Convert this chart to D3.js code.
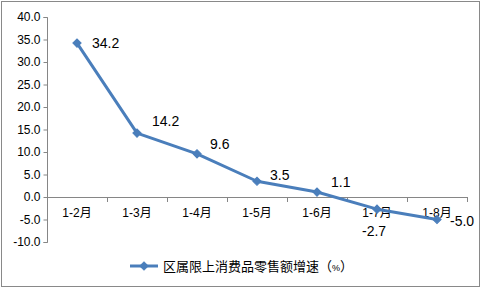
<!DOCTYPE html>
<html><head><meta charset="utf-8">
<script src="https://cdn.jsdelivr.net/npm/d3@7/dist/d3.min.js"></script>
<style>
html,body{margin:0;padding:0;background:#fff;}
svg{display:block;}
</style></head>
<body>
<svg id="c" width="482" height="290"></svg>
<script>
const categories = ["1-2月","1-3月","1-4月","1-5月","1-6月","1-7月","1-8月"];
const values = [34.2, 14.2, 9.6, 3.5, 1.1, -2.7, -5.0];
const yTicks = [40, 35, 30, 25, 20, 15, 10, 5, 0, -5, -10];
const seriesName = "区属限上消费品零售额增速";

const svg = d3.select("#c");
const color = "#4A7EBB";
const axisColor = "#868686";
const numFont = "'Liberation Sans', Arial, sans-serif";
const cjkFont = "'Noto Sans CJK SC', sans-serif";
const fmt = d => d3.format(".1f")(d).replace("\u2212", "-");

svg.append("rect").attr("x",1.5).attr("y",1.5).attr("width",478).attr("height",285)
  .attr("fill","#fff").attr("stroke","#898989").attr("stroke-width",1);

const x = d3.scaleBand().domain(categories).range([47, 467]).padding(0);
const y = d3.scaleLinear().domain([-10, 40]).range([242, 17]);

// Y axis
const yAxis = d3.axisLeft(y).tickValues(yTicks).tickSize(4).tickPadding(3).tickFormat(fmt);
const gy = svg.append("g").attr("transform","translate(47.5,0)").call(yAxis);
gy.select(".domain").attr("stroke",axisColor).attr("d","M-4,"+(y(40)+0.5)+"H0V"+(y(-10)+0.5)+"H-4");
gy.selectAll(".tick line").attr("stroke",axisColor);
gy.selectAll(".tick text").attr("fill","#000").style("font-family",numFont).style("font-size","12px");

// X axis at zero
const boundaries = categories.map(c => x(c)).concat([x.range()[1]]);
const gx = svg.append("g");
gx.append("line").attr("x1",47).attr("x2",467).attr("y1",y(0)+0.5).attr("y2",y(0)+0.5)
  .attr("stroke",axisColor).attr("stroke-width",1);
gx.selectAll("line.t").data(boundaries.slice(1)).enter().append("line").attr("class","t")
  .attr("x1",d=>Math.round(d)+0.5).attr("x2",d=>Math.round(d)+0.5)
  .attr("y1",y(0)).attr("y2",y(0)+5).attr("stroke",axisColor);
gx.selectAll("text").data(categories).enter().append("text")
  .attr("x",d=>x(d)+x.bandwidth()/2).attr("y",y(0)+20)
  .attr("text-anchor","middle").style("font-size","12px")
  .each(function(d){
    const m = d.match(/^(.*?)(月)$/);
    const t = d3.select(this);
    t.append("tspan").style("font-family",numFont).text(m[1]);
    t.append("tspan").style("font-family",cjkFont).text(m[2]);
  });

// Line
const cx = d => x(d) + x.bandwidth()/2;
const line = d3.line().x((d,i)=>cx(categories[i])).y(d=>y(d));
svg.append("path").datum(values).attr("d",line).attr("fill","none")
  .attr("stroke",color).attr("stroke-width",3).attr("stroke-linejoin","round");

const diamond = d3.symbol().type(d3.symbolSquare).size(34);
svg.selectAll("path.m").data(values).enter().append("path").attr("class","m")
  .attr("d",diamond)
  .attr("transform",(d,i)=>`translate(${cx(categories[i])},${y(d)}) rotate(45)`)
  .attr("fill",color).attr("stroke",color).attr("stroke-width",1);

// Data labels (Excel-style "right" placement, some nudged)
const labelNudge = [[15,0],[15,-12],[13,-10],[13,-6],[14,-10],[-15,22],[13,1]];
svg.selectAll("text.lbl").data(values).enter().append("text").attr("class","lbl")
  .attr("x",(d,i)=>cx(categories[i]) + labelNudge[i][0])
  .attr("y",(d,i)=>y(d) + labelNudge[i][1] + 5)
  .style("font-family",numFont).style("font-size","14px").attr("fill","#000")
  .text(fmt);

// Legend
const lg = svg.append("g").attr("transform","translate(0,266)");
lg.append("line").attr("x1",130).attr("x2",158).attr("y1",0).attr("y2",0)
  .attr("stroke",color).attr("stroke-width",3);
lg.append("path").attr("d",diamond).attr("transform","translate(144,0) rotate(45)")
  .attr("fill",color).attr("stroke",color);
const lt = lg.append("text").attr("x",163).attr("y",5).style("font-family",cjkFont)
  .style("font-size","13px").attr("fill","#000");
lt.append("tspan").text(seriesName + "（");
lt.append("tspan").style("font-size","9px").style("font-family",numFont).text("%");
lt.append("tspan").text("）");
</script>
</body></html>
